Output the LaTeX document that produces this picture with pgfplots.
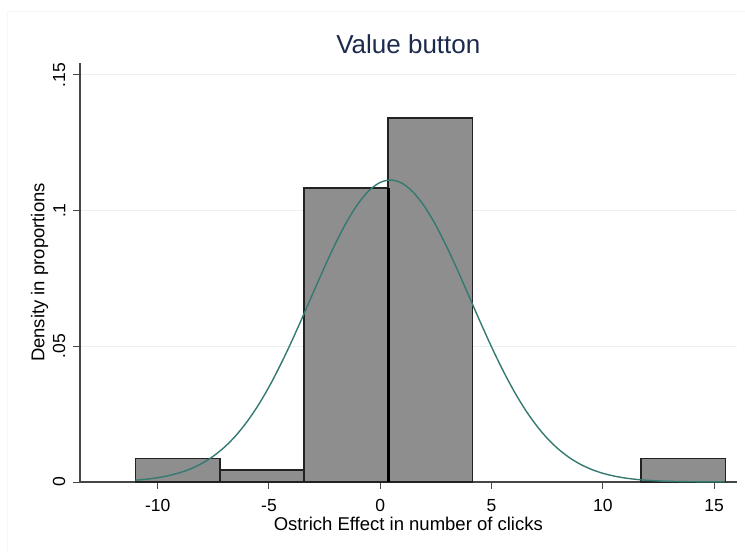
\documentclass[border=0pt]{standalone}
\usepackage{pgfplots}
\pgfplotsset{compat=1.18}
\usepackage{fontspec}
\setmainfont{Liberation Sans}

\definecolor{barfill}{RGB}{142,142,142}
\definecolor{barline}{RGB}{34,34,34}
\definecolor{normline}{RGB}{52,122,112}
\definecolor{titlecol}{RGB}{28,42,78}
\definecolor{gridcol}{RGB}{232,240,242}
\definecolor{axiscol}{RGB}{70,70,70}

% histogram densities (bin width 3.786, 7 bins from -11 to 15.5)
\pgfplotstableread{
x      d
-11     0.00866
-7.214  0.00433
-3.429  0.10830
0.357   0.13420
4.143   0
}\leftbins
\pgfplotstableread{
x      d
11.714  0.00866
15.5    0.00866
}\rightbins

\begin{document}
\begin{tikzpicture}
\begin{axis}[
  scale only axis, width=656.7pt, height=419pt,
  xmin=-13.49, xmax=16.01, ymin=0, ymax=0.1544,
  axis lines=left,
  axis line style={-, color=axiscol, line width=1.1pt},
  tick align=outside,
  major tick length=6.5pt,
  tick style={color=axiscol, line width=1pt},
  xtick={-10,-5,0,5,10,15},
  xticklabels={-10,-5,0,5,10,15},
  ytick={0,0.05,0.1,0.15},
  yticklabels={0,.05,.1,.15},
  ymajorgrids,
  grid style={gridcol, line width=0.9pt},
  every tick label/.append style={font=\fontsize{17.5}{20}\selectfont},
  xticklabel style={anchor=north, inner sep=0pt},
  xticklabel shift=11pt,
  yticklabel style={rotate=90, anchor=south, inner sep=0pt},
  yticklabel shift=8pt,
  xlabel={Ostrich Effect in number of clicks},
  ylabel={Density in proportions},
  label style={font=\fontsize{18.5}{21}\selectfont},
  xlabel style={anchor=center, inner sep=0pt, at={(axis description cs:0.5,-0.099)}},
  ylabel style={anchor=center, inner sep=0pt, at={(axis description cs:-0.0617,0.5)}},
  title={Value button},
  title style={font=\fontsize{26}{30}\selectfont, color=titlecol, anchor=base, inner sep=0pt, at={(axis description cs:0.5,1.008)}},
  clip=false,
]
\coordinate (O) at (rel axis cs:0,0);
\addplot[ybar interval, fill=barfill, draw=barline, line width=1.6pt] table[x=x, y=d] {\leftbins};
\addplot[ybar interval, fill=barfill, draw=barline, line width=1.6pt] table[x=x, y=d] {\rightbins};
% shared edge of the two central bins is drawn heavier
\addplot[black, line width=2.6pt] coordinates {(0.357,0) (0.357,0.1083)};
% fitted normal density, mean 0.45, sd 3.585
\addplot[normline, line width=1.4pt, smooth] coordinates {
(-11,0.000678) (-10.5,0.001049) (-10,0.001590) (-9.5,0.002366) (-9,0.003449)
(-8.5,0.004933) (-8,0.006920) (-7.5,0.009522) (-7,0.01285) (-6.5,0.01699)
(-6,0.02207) (-5.5,0.02808) (-5,0.03504) (-4.5,0.04291) (-4,0.05151)
(-3.5,0.06065) (-3,0.07004) (-2.5,0.07932) (-2,0.08811) (-1.5,0.09598)
(-1,0.10255) (-0.5,0.10744) (0,0.11041) (0.5,0.11128) (1,0.10998)
(1.5,0.10661) (2,0.10136) (2.5,0.09450) (3,0.08641) (3.5,0.07750)
(4,0.06816) (4.5,0.05879) (5,0.04973) (5.5,0.04126) (6,0.03357)
(6.5,0.02680) (7,0.02097) (7.5,0.01609) (8,0.01212) (8.5,0.008943)
(9,0.006478) (9.5,0.004599) (10,0.003203) (10.5,0.002188) (11,0.001465)
(11.5,0.000963) (12,0.000620) (12.5,0.000392) (13,0.000243) (13.5,0.000148)
(14,0.0000879) (14.5,0.0000514) (15,0.0000295) (15.5,0.0000166)
};
\end{axis}
% faint outer frame of the graph region
\draw[gray!7, line width=0.8pt] ([shift={(-72.7pt,-70pt)}]O) -- ([shift={(-72.7pt,470.3pt)}]O) -- ([shift={(665pt,470.3pt)}]O);
\pgfresetboundingbox
\path[use as bounding box] ([shift={(-80pt,-70pt)}]O) rectangle ([shift={(665pt,482pt)}]O);
\end{tikzpicture}
\end{document}
